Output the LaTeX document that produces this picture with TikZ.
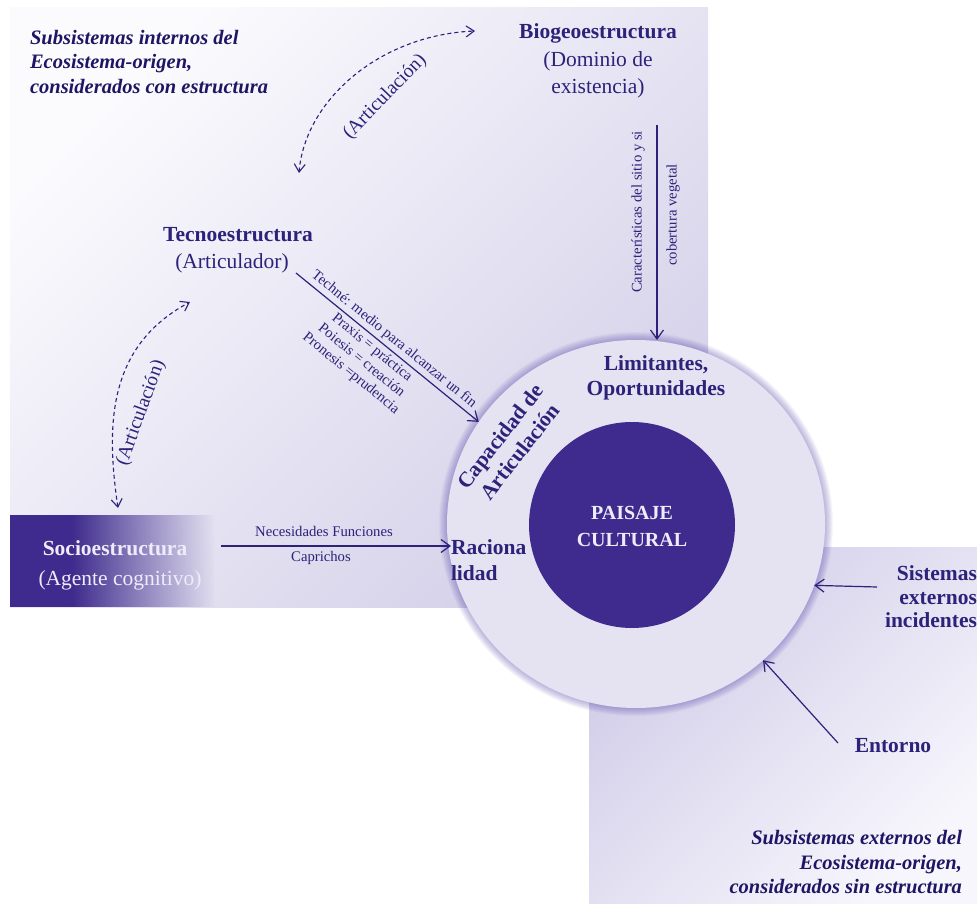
\documentclass[tikz,border=0pt]{standalone}
\usepackage{fontspec}
\setmainfont{Liberation Serif}
\usetikzlibrary{arrows.meta,shapes.geometric,calc,fadings}
\definecolor{ink}{RGB}{44,34,122}
\definecolor{inkdark}{RGB}{30,22,100}
\definecolor{dkp}{RGB}{62,43,141}
\definecolor{ringfill}{RGB}{229,226,242}
\definecolor{paneltl}{RGB}{251,251,254}
\definecolor{panelbr}{RGB}{212,208,233}
\definecolor{panetwotl}{RGB}{208,203,232}
\definecolor{panetwobr}{RGB}{247,246,252}
\definecolor{lighttext}{RGB}{238,236,250}
\definecolor{glowc}{RGB}{80,60,170}
\tikzfading[name=faderight, left color=transparent!0, right color=transparent!100]
\begin{document}
\begin{tikzpicture}[x=1pt,y=-1pt,
  every node/.style={inner sep=0pt, outer sep=0pt, text=ink},
  head/.style={font=\fontsize{21.5}{27}\selectfont\bfseries},
  sub/.style={font=\fontsize{21.5}{27}\selectfont},
  small/.style={font=\fontsize{14.7}{16.6}\selectfont},
  artic/.style={font=\fontsize{19.5}{22}\selectfont},
  ital/.style={font=\fontsize{20.5}{24.5}\selectfont\bfseries\itshape, text=inkdark},
  arr/.style={draw=ink, line width=1.2pt, -{Straight Barb[length=9pt,width=13pt]}},
  darr/.style={draw=ink, line width=1.1pt, dash pattern=on 4pt off 3pt, {Straight Barb[length=8pt,width=11pt]}-{Straight Barb[length=8pt,width=11pt]}},
]
\useasboundingbox (0,0) rectangle (977,904);
\fill[white] (0,0) rectangle (977,904);
% panels
\shade[top color=paneltl, bottom color=panelbr, shading angle=45] (10,8) rectangle (708,607);
\shade[top color=panetwotl, bottom color=panetwobr, shading angle=45] (589,547) rectangle (977,904);
% socio box
\node[minimum width=205pt, minimum height=92pt, anchor=north west] (sociobox) at (10,515) {};
\fill[dkp] (sociobox.north west) rectangle ([xshift=62pt]sociobox.south west);
\fill[dkp, path fading=faderight] ([xshift=62pt]sociobox.north west) rectangle (sociobox.south east);
% ring with glow
\foreach \k in {1,...,8}{
  \fill[glowc, opacity=0.05] (636,524) ellipse [x radius={189+\k}, y radius={184+\k}];
}
\node[ellipse, minimum width=378pt, minimum height=368pt, fill=ringfill] (outer) at (636,524) {};
\node[circle, minimum size=206pt, fill=dkp] (core) at (632,525) {};

% texts
\node[ital, anchor=west, align=left] (intro) at (30,62) {Subsistemas internos del\\Ecosistema-origen,\\considerados con estructura};
\node[head] (bio) at (598,33) {Biogeoestructura};
\node[sub, align=center] (biosub) at (598,74.5) {(Dominio de\\existencia)};
\node[head] (tecno) at (238,235) {Tecnoestructura};
\node[sub] (tecnosub) at (232,263) {(Articulador)};
\node[head, text=lighttext] (socio) at (115,548) {Socioestructura};
\node[sub, text=lighttext] (sociosub) at (120,580) {(Agente cognitivo)};
\node[head, align=center, font=\fontsize{21.5}{25}\selectfont\bfseries] (lim) at (656,377.5) {Limitantes,\\Oportunidades};
\node[head, align=center, rotate=52, font=\fontsize{21.5}{25}\selectfont\bfseries] (cap) at (510,444) {Capacidad de\\Articulación};
\node[head, align=left, anchor=west, font=\fontsize{21.5}{26}\selectfont\bfseries] (rac) at (451,560) {Raciona\\lidad};
\node[align=center, text=lighttext, font=\fontsize{20}{27}\selectfont\bfseries] (paisaje) at (632,526.5) {PAISAJE\\CULTURAL};
\node[head, align=right, anchor=east, font=\fontsize{21.5}{23.5}\selectfont\bfseries] (sist) at (977,597) {Sistemas\\externos\\incidentes};
\node[head] (ent) at (893,746) {Entorno};
\node[ital, align=right, anchor=east] (ext) at (962,862.5) {Subsistemas externos del\\Ecosistema-origen,\\considerados sin estructura};

% Biogeo -> ring
\coordinate (bioout) at (657,125);
\draw[arr] (bioout) -- (bioout |- outer.north);
\node[small, rotate=90] (carac) at (638,212) {Características del sitio y si};
\node[small, rotate=90] (cobert) at (673,215) {cobertura vegetal};

% Tecno -> ring
\coordinate (tecout) at (296,273);
\draw[arr] (tecout) -- node[small, sloped, above, inner sep=3.5pt, pos=0.5] (techne) {Techné: medio para alcanzar un fin}
  node[small, sloped, below, inner sep=3.5pt, pos=0.45, align=center] (praxis) {Praxis = práctica\\Poiesis = creación\\Pronesis =prudencia} (outer.147);

% Socio -> Racionalidad
\coordinate (sociout) at (221,546);
\draw[arr] (sociout) -- (sociout -| rac.west);
\node[small] (necesidades) at (324,531) {Necesidades Funciones};
\node[small] (caprichos) at (321,558) {Caprichos};

% external arrows
\coordinate (sistout) at (877,587);
\draw[arr] (sistout) -- (outer.-19.5);
\coordinate (entout) at (838,743);
\draw[arr] (entout) -- (outer.-47);

% dashed articulations
\coordinate (a1) at (299,173);
\coordinate (a2) at (475,31);
\draw[darr] (a1) .. controls (305,100) and (380,35) .. (a2);
\node[artic, rotate=46] (art1) at (385,97) {(Articulación)};
\coordinate (b1) at (118,508);
\coordinate (b2) at (190,302);
\draw[darr] (b1) .. controls (105,420) and (110,345) .. (b2);
\node[artic, rotate=70] (art2) at (141,413) {(Articulación)};
\end{tikzpicture}
\end{document}
